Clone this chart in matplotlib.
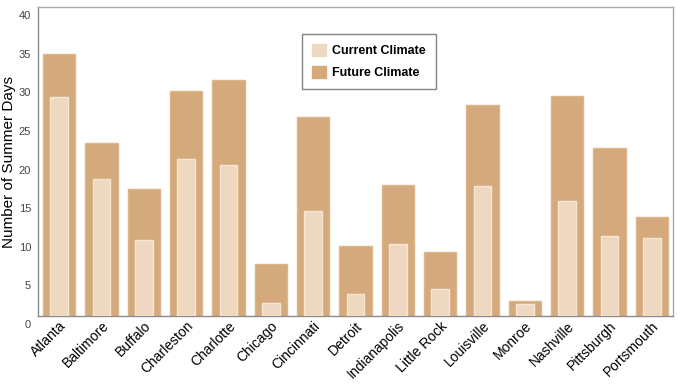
import matplotlib
matplotlib.use("Agg")
import matplotlib.pyplot as plt
import matplotlib.transforms as mtransforms
from matplotlib.patches import Patch

plt.rcParams["font.family"] = ["Liberation Sans", "DejaVu Sans"]

CITIES = ["Atlanta", "Baltimore", "Buffalo", "Charleston", "Charlotte",
          "Chicago", "Cincinnati", "Detroit", "Indianapolis", "Little Rock",
          "Louisville", "Monroe", "Nashville", "Pittsburgh", "Portsmouth"]
FUTURE = [33.9, 22.4, 16.5, 29.1, 30.5, 6.7, 25.7, 9.1, 16.9, 8.3,
          27.3, 1.9, 28.5, 21.7, 12.8]
CURRENT = [28.3, 17.7, 9.9, 20.3, 19.5, 1.7, 13.6, 2.9, 9.3, 3.5,
           16.8, 1.5, 14.9, 10.4, 10.1]
YTICKS = [0, 5, 10, 15, 20, 25, 30, 35, 40]

FUT_COLOR = "#d4aa7c"
FUT_EDGE = "#dcb58b"
CUR_COLOR = "#eed8c0"
CUR_EDGE = "#f5e6d5"


def main() -> None:
    fig = plt.figure(figsize=(6.8, 3.84), dpi=100)
    ax = fig.add_axes([38 / 680, 68 / 384, 635 / 680, 309 / 384])

    x = range(len(CITIES))
    ax.bar(x, FUTURE, width=0.77, color=FUT_COLOR, edgecolor=FUT_EDGE,
           linewidth=1.0, zorder=2)
    ax.bar(x, CURRENT, width=0.42, color=CUR_COLOR, edgecolor=CUR_EDGE,
           linewidth=1.0, zorder=3)

    ax.set_xlim(-0.5, len(CITIES) - 0.5)
    ax.set_ylim(0, 40)
    ax.set_yticks(YTICKS)
    ax.set_yticklabels([str(v) for v in YTICKS], fontsize=8, color="#444444")
    ax.tick_params(axis="y", length=0, pad=5)
    shift = mtransforms.ScaledTranslation(0, -8 / 100, fig.dpi_scale_trans)
    for lab in ax.get_yticklabels():
        lab.set_transform(lab.get_transform() + shift)

    ax.set_xticks(list(x))
    ax.set_xticklabels(CITIES, rotation=45, ha="right",
                       rotation_mode="anchor", fontsize=10)
    ax.tick_params(axis="x", length=0, pad=2)

    for name, sp in ax.spines.items():
        sp.set_color("#8c8c8c" if name in ("left", "bottom") else "#a8a8a8")
        sp.set_linewidth(1.0)

    ax.set_ylabel("Number of Summer Days", fontsize=11)
    ax.yaxis.set_label_coords(-22 / 635, 0.5)

    handles = [Patch(facecolor=CUR_COLOR, edgecolor=CUR_COLOR, label="Current Climate"),
               Patch(facecolor=FUT_COLOR, edgecolor=FUT_COLOR, label="Future Climate")]
    leg = ax.legend(handles=handles, loc="upper left",
                    bbox_to_anchor=(264 / 635, 1 - 27 / 309),
                    frameon=True, fancybox=False, prop={"weight": "bold", "size": 9},
                    handlelength=1.1, handleheight=1.1, handletextpad=0.5,
                    labelspacing=0.7, borderpad=0.8, borderaxespad=0)
    leg.get_frame().set_edgecolor("#666666")
    leg.get_frame().set_linewidth(1.0)

    fig.savefig("out.png", dpi=100)


if __name__ == "__main__":
    main()
